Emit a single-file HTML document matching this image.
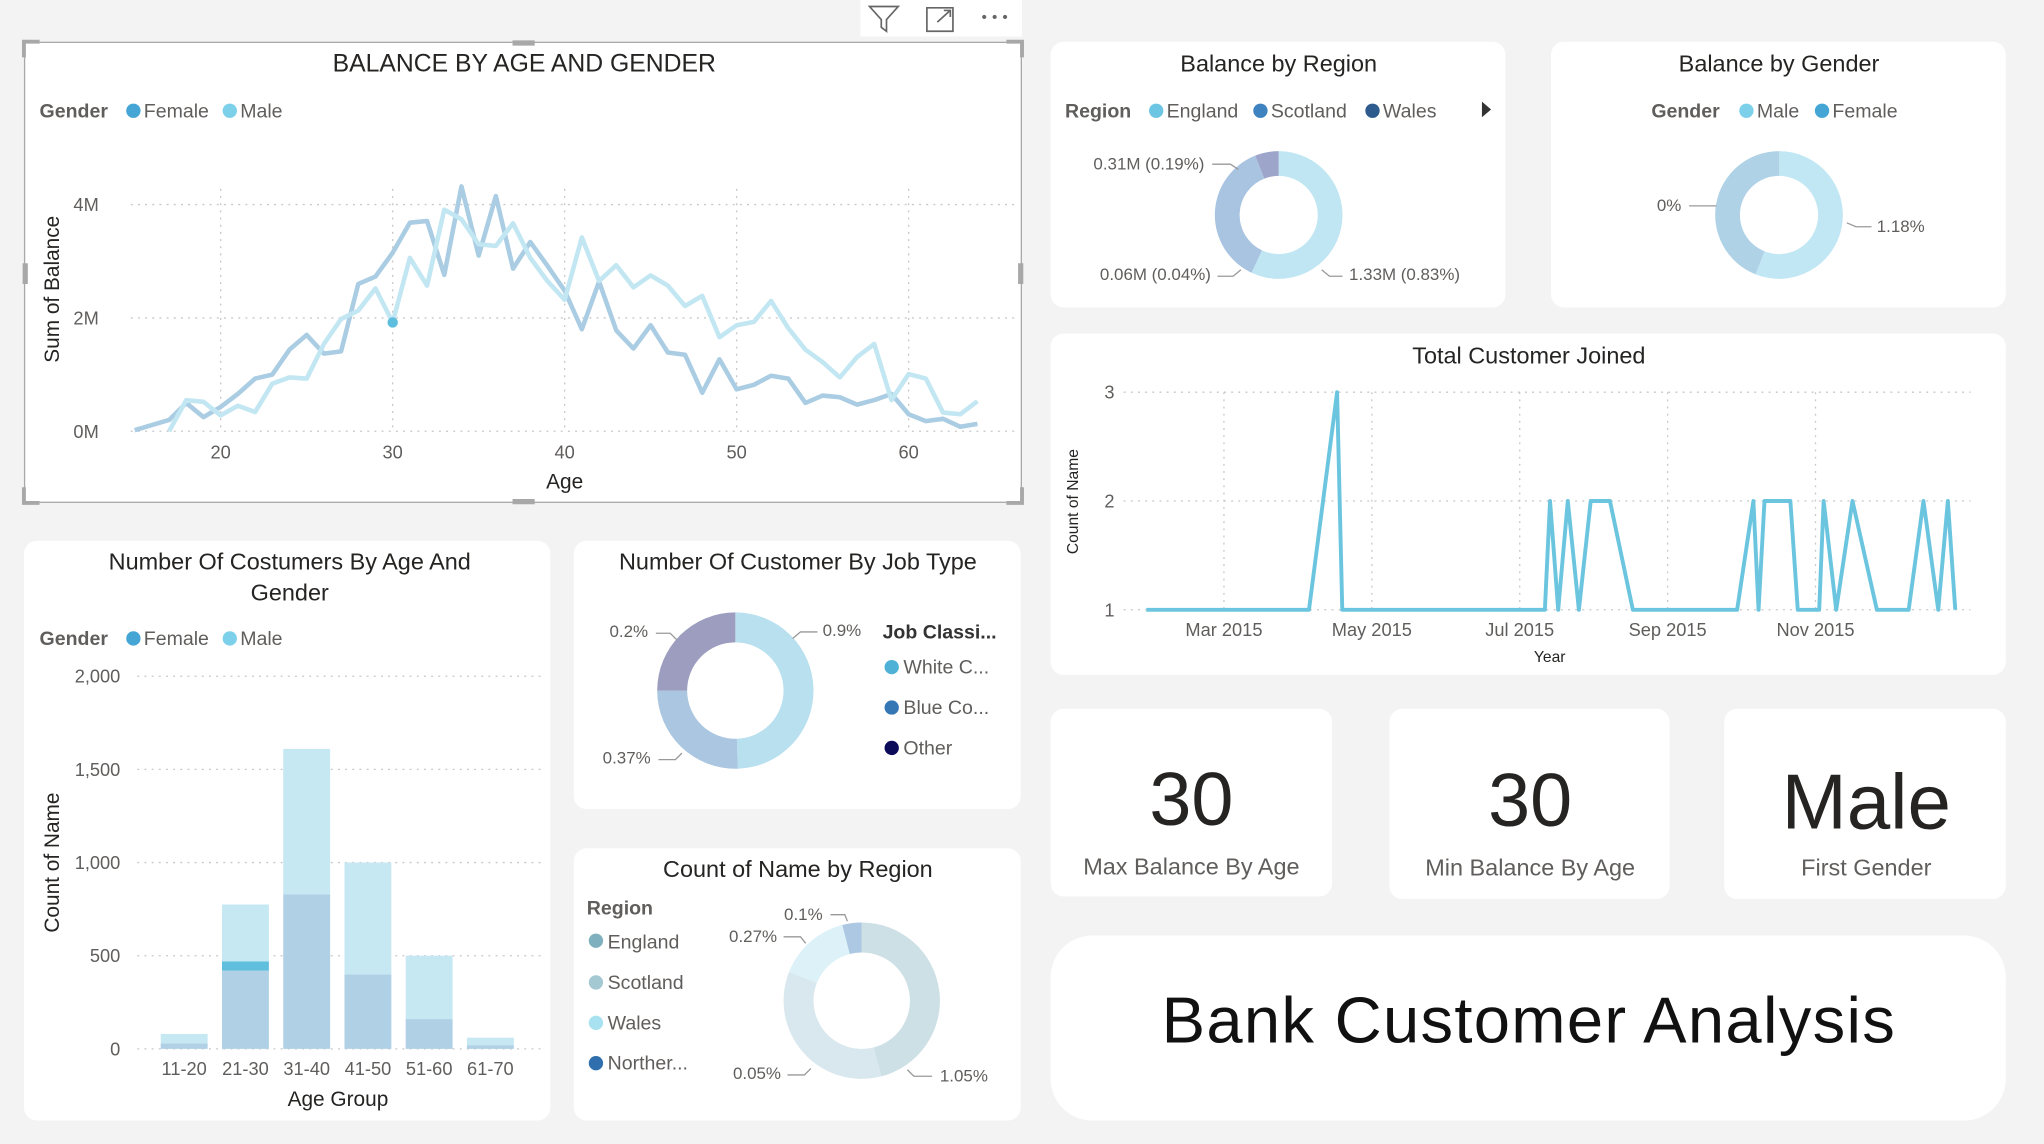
<!DOCTYPE html>
<html><head><meta charset="utf-8">
<style>
html,body{margin:0;padding:0;background:#f3f3f3;}
svg{display:block;font-family:"Liberation Sans",sans-serif;}
</style></head>
<body>
<svg id="root" width="2044" height="1144" viewBox="0 0 1568 878" xmlns="http://www.w3.org/2000/svg">
<rect x="0" y="0" width="1568" height="878" fill="#f3f3f3"/>

<!-- cards -->
<rect x="18" y="32" width="766" height="354" fill="#fff"/>
<rect x="806" y="32" width="349" height="204" rx="10" fill="#fff"/>
<rect x="1190" y="32" width="349" height="204" rx="10" fill="#fff"/>
<rect x="806" y="256" width="733" height="262" rx="10" fill="#fff"/>
<rect x="18" y="415" width="404" height="445" rx="10" fill="#fff"/>
<rect x="440" y="415" width="343" height="206" rx="10" fill="#fff"/>
<rect x="440" y="651" width="343" height="209" rx="10" fill="#fff"/>
<rect x="806" y="544" width="216" height="144" rx="10" fill="#fff"/>
<rect x="1066" y="544" width="215" height="146" rx="10" fill="#fff"/>
<rect x="1323" y="544" width="216" height="146" rx="10" fill="#fff"/>
<rect x="806" y="718" width="733" height="142" rx="32" fill="#fff"/>

<!-- selection frame -->
<g fill="none" stroke="#a8a8a8">
<rect x="18.5" y="32.5" width="765" height="353" stroke-width="1"/>
<path d="M18 44V32H30 M772 32H784V44 M18 374V386H30 M772 386H784V374" stroke-width="3"/>
<path d="M393 33H410 M393 385H410 M19 202V218 M783 202V218" stroke-width="4"/>
</g>
<!-- toolbar -->
<g>
<rect x="660" y="0" width="124" height="28" fill="#fff"/>
<path d="M667 5H689L680 15V24L676 21V15Z" fill="none" stroke="#666" stroke-width="1.3"/>
<g fill="none" stroke="#666" stroke-width="1.3"><path d="M711 6H731V24H711Z M720 6H711V15 M722 24H731V15 M719 17L729 8 M724 8H729V13"/></g>
<g fill="#666"><circle cx="755" cy="13" r="1.6"/><circle cx="763" cy="13" r="1.6"/><circle cx="771" cy="13" r="1.6"/></g>
</g>

<g id="text" fill="#252423">
<text x="402" y="55" font-size="19" text-anchor="middle">BALANCE BY AGE AND GENDER</text>
<text x="981" y="55" font-size="18" text-anchor="middle">Balance by Region</text>
<text x="1365" y="55" font-size="18" text-anchor="middle">Balance by Gender</text>
<text x="1173" y="279" font-size="18" text-anchor="middle">Total Customer Joined</text>
<text x="222" y="437" font-size="18" text-anchor="middle">Number Of Costumers By Age And</text>
<text x="222" y="461" font-size="18" text-anchor="middle">Gender</text>
<text x="612" y="437" font-size="18" text-anchor="middle">Number Of Customer By Job Type</text>
<text x="612" y="673" font-size="18" text-anchor="middle">Count of Name by Region</text>
<text x="914" y="633" font-size="58" text-anchor="middle">30</text>
<text x="914" y="671" font-size="18" fill="#605e5c" text-anchor="middle">Max Balance By Age</text>
<text x="1174" y="634" font-size="58" text-anchor="middle">30</text>
<text x="1174" y="672" font-size="18" fill="#605e5c" text-anchor="middle">Min Balance By Age</text>
<text x="1432" y="636" font-size="60" text-anchor="middle">Male</text>
<text x="1432" y="672" font-size="18" fill="#605e5c" text-anchor="middle">First Gender</text>
<text x="1173" y="800" font-size="50" fill="#111" text-anchor="middle" letter-spacing="1">Bank Customer Analysis</text>
</g>

<!-- legends -->
<g font-size="15" fill="#605e5c">
<g><text x="30" y="90" font-weight="bold">Gender</text><circle cx="102" cy="85" r="5.5" fill="#45a5d5"/><text x="110" y="90">Female</text><circle cx="176" cy="85" r="5.5" fill="#7dd0ea"/><text x="184" y="90">Male</text></g>
<g><text x="817" y="90" font-weight="bold">Region</text><circle cx="887" cy="85" r="5.5" fill="#6cc6e3"/><text x="895" y="90">England</text><circle cx="967" cy="85" r="5.5" fill="#3f82c0"/><text x="975" y="90">Scotland</text><circle cx="1053" cy="85" r="5.5" fill="#2d5b8e"/><text x="1061" y="90">Wales</text><path d="M1137 78L1144 84L1137 90Z" fill="#333"/></g>
<g><text x="1267" y="90" font-weight="bold">Gender</text><circle cx="1340" cy="85" r="5.5" fill="#7dd0ea"/><text x="1348" y="90">Male</text><circle cx="1398" cy="85" r="5.5" fill="#45a5d5"/><text x="1406" y="90">Female</text></g>
<g><text x="30" y="495" font-weight="bold">Gender</text><circle cx="102" cy="490" r="5.5" fill="#45a5d5"/><text x="110" y="495">Female</text><circle cx="176" cy="490" r="5.5" fill="#7dd0ea"/><text x="184" y="495">Male</text></g>
<g><text x="677" y="490" font-weight="bold" fill="#333">Job Classi...</text><circle cx="684" cy="512" r="5.5" fill="#4fb1d6"/><text x="693" y="517">White C...</text><circle cx="684" cy="543" r="5.5" fill="#3577b5"/><text x="693" y="548">Blue Co...</text><circle cx="684" cy="574" r="5.5" fill="#0b0b5a"/><text x="693" y="579">Other</text></g>
<g><text x="450" y="702" font-weight="bold">Region</text><circle cx="457" cy="722" r="5.5" fill="#7fb0bd"/><text x="466" y="728">England</text><circle cx="457" cy="754" r="5.5" fill="#a5c9d3"/><text x="466" y="759">Scotland</text><circle cx="457" cy="785" r="5.5" fill="#a8e2f1"/><text x="466" y="790">Wales</text><circle cx="457" cy="816" r="5.5" fill="#2f6fae"/><text x="466" y="821">Norther...</text></g>
</g>

<g id="charts"></g>
</svg>
<script>
// ---- Balance by age & gender (values in millions)
const ages = [15,16,17,18,19,20,21,22,23,24,25,26,27,28,29,30,31,32,33,34,35,36,37,38,39,40,41,42,43,44,45,46,47,48,49,50,51,52,53,54,55,56,57,58,59,60,61,62,63,64];
const femaleBal = [0.02,0.11,0.2,0.5,0.25,0.43,0.66,0.93,1.0,1.44,1.7,1.37,1.41,2.6,2.73,3.15,3.68,3.71,2.76,4.32,3.1,4.15,2.87,3.34,2.92,2.48,1.8,2.64,1.78,1.46,1.87,1.39,1.35,0.68,1.27,0.74,0.82,0.98,0.93,0.5,0.63,0.6,0.47,0.55,0.66,0.3,0.18,0.22,0.08,0.13];
const maleAges = [17,18,19,20,21,22,23,24,25,26,27,28,29,30,31,32,33,34,35,36,37,38,39,40,41,42,43,44,45,46,47,48,49,50,51,52,53,54,55,56,57,58,59,60,61,62,63,64];
const maleBal = [0,0.55,0.52,0.28,0.45,0.34,0.84,0.95,0.93,1.54,1.98,2.13,2.52,1.92,3.06,2.57,3.91,3.74,3.3,3.27,3.67,3.06,2.65,2.32,3.42,2.65,2.93,2.54,2.75,2.57,2.21,2.39,1.66,1.87,1.93,2.3,1.82,1.44,1.22,0.95,1.31,1.54,0.55,1.01,0.93,0.33,0.3,0.53];
const balTicks = [0,2,4];
const balTickLabels = ["0M","2M","4M"];
const ageTicks = [20,30,40,50,60];
const highlightAge = 30;
// ---- Customers joined (x in month index, Jan=0)
const joinMonths = [0.95,3.15,3.53,3.6,6.34,6.41,6.52,6.65,6.8,6.96,7.22,7.53,8.94,9.16,9.23,9.31,9.66,9.76,10.05,10.11,10.28,10.5,10.83,11.26,11.46,11.66,11.79,11.89];
const joinCounts = [1,1,3,1,1,2,1,2,1,2,2,1,1,2,1,2,2,1,1,2,1,2,1,1,2,1,2,1];
const joinTickMonths = [2,4,6,8,10];
const joinTickLabels = ["Mar 2015","May 2015","Jul 2015","Sep 2015","Nov 2015"];
const countTicks = [1,2,3];
// ---- Bar chart
const ageGroups = ["11-20","21-30","31-40","41-50","51-60","61-70"];
const femaleCounts = [30,420,830,400,160,20];
const highlightCounts = [0,50,0,0,0,0];
const maleCounts = [50,305,780,600,340,40];
const countAxisTicks = [0,500,1000,1500,2000];
const countAxisLabels = ["0","500","1,000","1,500","2,000"];
// ---- Donuts (slice shares)
const regionShares = [57,37,6];
const genderShares = [56,44];
const jobShares = [49.5,25.5,25];
const countRegionShares = [46,35,15,4];

const NS="http://www.w3.org/2000/svg";
const G=document.getElementById('charts');
function mk(tag,attrs,parent){const e=document.createElementNS(NS,tag);for(const k in attrs)e.setAttribute(k,attrs[k]);(parent||G).appendChild(e);return e;}
function txt(x,y,s,size,fill,anchor,parent){const t=mk('text',{x:x,y:y,'font-size':size,fill:fill,'text-anchor':anchor||'start'},parent);t.textContent=s;return t;}

// line chart
const ax=a=>169+(a-20)*13.2, ay=v=>331-v*43.5;
balTicks.forEach((v,i)=>{
  const l=mk('line',{x1:100,x2:780,y1:ay(v),y2:ay(v),stroke:'#c8c8c8','stroke-dasharray':'1.5 4'});
  
  
  const t=txt(56,ay(v)+5,balTickLabels[i],14,'#605e5c');
  
  
});
ageTicks.forEach(a=>{
  const l=mk('line',{x1:ax(a),x2:ax(a),y1:145,y2:331,stroke:'#c8c8c8','stroke-dasharray':'1.5 4'});
  
  
  const t=txt(ax(a),352,String(a),14,'#605e5c','middle');
  
  
});
const yt=txt(0,0,'Sum of Balance',16,'#252423','middle');
yt.setAttribute('transform','translate(45 222) rotate(-90)');


const xt=txt(433,375,'Age',16,'#252423','middle');


const fl=mk('polyline',{points:ages.map((a,i)=>ax(a)+','+ay(femaleBal[i])).join(' '),fill:'none',stroke:'#aacde3','stroke-width':3.5,'stroke-linejoin':'round'});


const ml=mk('polyline',{points:maleAges.map((a,i)=>ax(a)+','+ay(maleBal[i])).join(' '),fill:'none',stroke:'#c2e7f2','stroke-width':3.5,'stroke-linejoin':'round'});


const hi=maleAges.indexOf(highlightAge);
const hp=mk('circle',{cx:ax(highlightAge),cy:ay(maleBal[hi]),r:4,fill:'#5dbfdd'});



// customers joined
const jx=m=>939+(m-2)*56.75, jy=v=>468-(v-1)*83.5;
countTicks.forEach(v=>{
  const l=mk('line',{x1:862,x2:1512,y1:jy(v),y2:jy(v),stroke:'#c8c8c8','stroke-dasharray':'1.5 4'});
  
  
  const t=txt(855,jy(v)+5,String(v),14,'#605e5c','end');
  
  
});
joinTickMonths.forEach((m,i)=>{
  const l=mk('line',{x1:jx(m),x2:jx(m),y1:301,y2:468,stroke:'#c8c8c8','stroke-dasharray':'1.5 4'});
  
  
  const t=txt(jx(m),488,joinTickLabels[i],14,'#605e5c','middle');
  
  
});
const jyT=txt(0,0,'Count of Name',12,'#252423','middle');
jyT.setAttribute('transform','translate(827 385) rotate(-90)');


const jxT=txt(1189,508,'Year',12,'#252423','middle');


const jl=mk('polyline',{points:joinMonths.map((m,i)=>jx(m)+','+jy(joinCounts[i])).join(' '),fill:'none',stroke:'#6cc5df','stroke-width':3,'stroke-linejoin':'round'});



// bar chart
const by=v=>805-v*0.143;
countAxisTicks.forEach((v,i)=>{
  const l=mk('line',{x1:105,x2:415,y1:by(v),y2:by(v),stroke:'#c8c8c8','stroke-dasharray':'1.5 4'});
  
  
  const t=txt(92,by(v)+5,countAxisLabels[i],14,'#605e5c','end');
  
  
});
ageGroups.forEach((g,i)=>{
  const cx=141+i*47, w=36;
  let base=0;
  const f=mk('rect',{x:cx-w/2,y:by(femaleCounts[i]),width:w,height:femaleCounts[i]*0.143,fill:'#b0d0e6'});
  
  
  base=femaleCounts[i];
  if(highlightCounts[i]>0){
    const h=mk('rect',{x:cx-w/2,y:by(base+highlightCounts[i]),width:w,height:highlightCounts[i]*0.143,fill:'#5fbfdc'});
    
    
    base+=highlightCounts[i];
  }
  const m=mk('rect',{x:cx-w/2,y:by(base+maleCounts[i]),width:w,height:maleCounts[i]*0.143,fill:'#c5e8f3'});
  
  
  const t=txt(cx,825,g,14,'#605e5c','middle');
  
  
});
const byT=txt(0,0,'Count of Name',16,'#252423','middle');
byT.setAttribute('transform','translate(45 662) rotate(-90)');


const bxT=txt(259,849,'Age Group',16,'#252423','middle');



// donuts
function donut(cx,cy,R,r,shares,colors,name){
  const tot=shares.reduce((a,b)=>a+b,0);let a0=0;
  shares.forEach((s,i)=>{
    const a1=a0+s/tot*Math.PI*2;
    const p=(a,rad)=>[cx+rad*Math.sin(a),cy-rad*Math.cos(a)];
    const [x0,y0]=p(a0,R),[x1,y1]=p(a1,R),[x2,y2]=p(a1,r),[x3,y3]=p(a0,r);
    const lg=(a1-a0)>Math.PI?1:0;
    const path=mk('path',{d:`M${x0} ${y0}A${R} ${R} 0 ${lg} 1 ${x1} ${y1}L${x2} ${y2}A${r} ${r} 0 ${lg} 0 ${x3} ${y3}Z`,fill:colors[i]});
    
    
    a0=a1;
  });
}
donut(981,165,49,30,regionShares,['#bfe6f2','#a9c4e1','#9ea5cb'],'region-donut');
donut(1365,165,49,30,genderShares,['#c0e7f3','#b0d2e7'],'gender-donut');
donut(564,530,60,37,jobShares,['#b8e0ef','#abc6e1','#9c9dbf'],'job-donut');
donut(661,768,60,37,countRegionShares,['#cde0e6','#d9e8ee','#dcf1f8','#adc8e2'],'count-region-donut');

// donut labels with leader lines
const labels=[
 [924,130,'0.31M (0.19%)','end','M930 126H944L950 130'],
 [929,215,'0.06M (0.04%)','end','M934 212H946L952 207'],
 [1035,215,'1.33M (0.83%)','start','M1030 212H1020L1014 207'],
 [1290,162,'0%','end','M1296 158H1312L1317 158'],
 [1440,178,'1.18%','start','M1436 174H1424L1417 171'],
 [497,489,'0.2%','end','M503 486H514L519 491'],
 [631,488,'0.9%','start','M627 485H614L608 490'],
 [499,586,'0.37%','end','M505 583H518L523 578'],
 [631,706,'0.1%','end','M637 702H648L650 707'],
 [596,723,'0.27%','end','M601 719H614L618 724'],
 [599,828,'0.05%','end','M604 825H617L622 820'],
 [721,830,'1.05%','start','M715 826H701L696 821']
];
labels.forEach(l=>{
  const t=txt(l[0],l[1],l[2],13,'#605e5c',l[3]);
  
  
  const p=mk('path',{d:l[4],fill:'none',stroke:'#999','stroke-width':1});
  
  
});
</script>
</body></html>
